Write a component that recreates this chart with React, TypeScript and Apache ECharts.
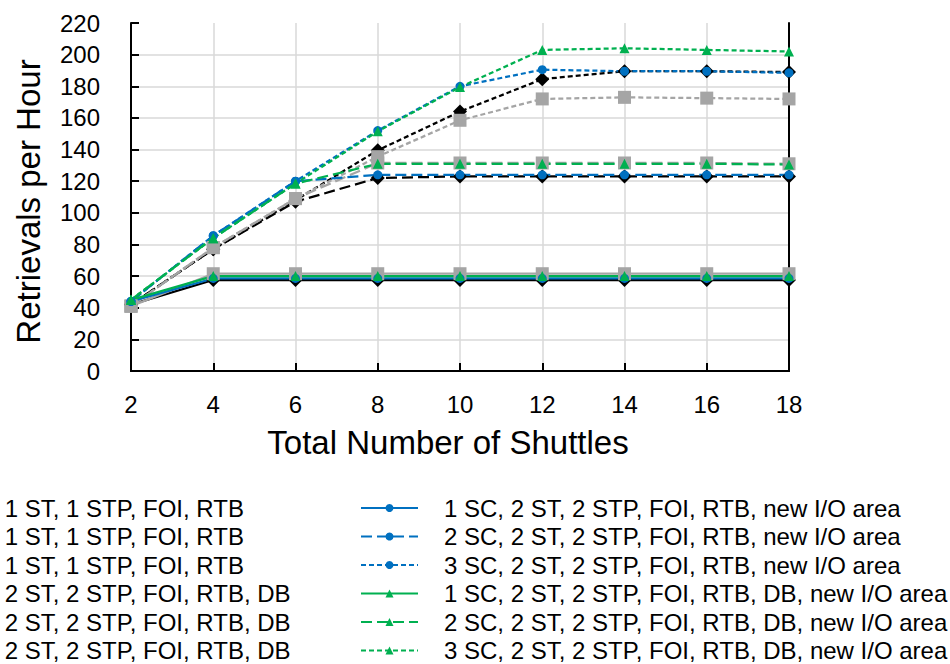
import React, { useEffect, useRef } from "react";
import * as echarts from "echarts";

// Total number of shuttles (x axis)
const shuttles = [2, 4, 6, 8, 10, 12, 14, 16, 18];

// Retrievals per hour for each configuration
const sc1St1 = [42, 57.5, 57.5, 57.5, 57.5, 57.5, 57.5, 57.5, 57.5];
const sc2St1 = [42, 77, 107, 122, 123, 123, 123, 123, 123];
const sc3St1 = [42, 77, 108, 139.5, 164, 184.5, 189.5, 189.5, 189];
const sc1St2Db = [41, 61.5, 61.5, 61.5, 61.5, 61.5, 61.5, 61.5, 61.5];
const sc2St2Db = [41, 78, 109, 131.5, 131.5, 131.5, 131.5, 131.5, 131];
const sc3St2Db = [41, 78, 109, 135.5, 158.5, 172, 173, 172.5, 172];
const sc1New = [44, 58.5, 58.5, 58.5, 58.5, 58.5, 58.5, 58.5, 58.5];
const sc2New = [44, 85.5, 120, 124, 124, 124, 124, 124, 124];
const sc3New = [44, 85.5, 120, 152, 180, 190.5, 189.5, 189.5, 188.5];
const sc1DbNew = [45, 60, 60, 60, 60, 60, 60, 60, 60];
const sc2DbNew = [45, 84, 118.5, 131, 131, 131, 131, 131, 130.5];
const sc3DbNew = [45, 84, 118.5, 151.5, 179.5, 203, 204, 203, 202];

const yTicks = [0, 20, 40, 60, 80, 100, 120, 140, 160, 180, 200, 220];

const leftNames = [
  "1 SC, 1 ST, 1 STP, FOI, RTB",
  "2 SC, 1 ST, 1 STP, FOI, RTB",
  "3 SC, 1 ST, 1 STP, FOI, RTB",
  "1 SC, 2 ST, 2 STP, FOI, RTB, DB",
  "2 SC, 2 ST, 2 STP, FOI, RTB, DB",
  "3 SC, 2 ST, 2 STP, FOI, RTB, DB",
];
const rightNames = [
  "1 SC, 2 ST, 2 STP, FOI, RTB, new I/O area",
  "2 SC, 2 ST, 2 STP, FOI, RTB, new I/O area",
  "3 SC, 2 ST, 2 STP, FOI, RTB, new I/O area",
  "1 SC, 2 ST, 2 STP, FOI, RTB, DB, new I/O area",
  "2 SC, 2 ST, 2 STP, FOI, RTB, DB, new I/O area",
  "3 SC, 2 ST, 2 STP, FOI, RTB, DB, new I/O area",
];

const FONT = "Liberation Sans, Arial, sans-serif";
const LONG_DASH = [11, 5];
const SHORT_DASH = [5, 3];

type Style = {
  color: string;
  symbol: string;
  size: number;
  dash: "solid" | number[];
};

const BLACK = "#000000";
const GRAY = "#A5A5A5";
const BLUE = "#0070C0";
const GREEN = "#00B050";

const seriesDefs: { name: string; values: number[]; style: Style }[] = [
  { name: leftNames[0], values: sc1St1, style: { color: BLACK, symbol: "diamond", size: 14, dash: "solid" } },
  { name: leftNames[1], values: sc2St1, style: { color: BLACK, symbol: "diamond", size: 14, dash: LONG_DASH } },
  { name: leftNames[2], values: sc3St1, style: { color: BLACK, symbol: "diamond", size: 14, dash: SHORT_DASH } },
  { name: leftNames[3], values: sc1St2Db, style: { color: GRAY, symbol: "rect", size: 13, dash: "solid" } },
  { name: leftNames[4], values: sc2St2Db, style: { color: GRAY, symbol: "rect", size: 13, dash: LONG_DASH } },
  { name: leftNames[5], values: sc3St2Db, style: { color: GRAY, symbol: "rect", size: 13, dash: SHORT_DASH } },
  { name: rightNames[0], values: sc1New, style: { color: BLUE, symbol: "circle", size: 9, dash: "solid" } },
  { name: rightNames[1], values: sc2New, style: { color: BLUE, symbol: "circle", size: 9, dash: LONG_DASH } },
  { name: rightNames[2], values: sc3New, style: { color: BLUE, symbol: "circle", size: 9, dash: SHORT_DASH } },
  { name: rightNames[3], values: sc1DbNew, style: { color: GREEN, symbol: "triangle", size: 10, dash: "solid" } },
  { name: rightNames[4], values: sc2DbNew, style: { color: GREEN, symbol: "triangle", size: 10, dash: LONG_DASH } },
  { name: rightNames[5], values: sc3DbNew, style: { color: GREEN, symbol: "triangle", size: 10, dash: SHORT_DASH } },
];

const legendCommon = {
  orient: "vertical" as const,
  top: 496,
  padding: 0,
  itemWidth: 57,
  itemHeight: 10,
  itemGap: 4.5,
  textStyle: {
    fontFamily: FONT,
    fontSize: 24,
    lineHeight: 24,
    color: "#000",
    padding: [0, 0, 0, 21],
  },
};

export default function App() {
  const ref = useRef<HTMLDivElement>(null);

  useEffect(() => {
    if (!ref.current) return;
    const chart = echarts.init(ref.current, null, { renderer: "svg" });

    const axisLine = { show: true, lineStyle: { color: "#000", width: 2 } };

    chart.setOption({
      animation: false,
      backgroundColor: "#fff",
      grid: { left: 131, right: 161, top: 23, bottom: 293, containLabel: false },
      legend: [
        { ...legendCommon, left: -146, data: leftNames },
        { ...legendCommon, left: 360, data: rightNames },
      ],
      xAxis: [
        {
          type: "value",
          min: 2,
          max: 18,
          interval: 2,
          name: "Total Number of Shuttles",
          nameLocation: "middle",
          nameGap: 55,
          nameTextStyle: {
            fontFamily: FONT,
            fontSize: 33,
            color: "#000",
            padding: [0, 24, 0, 0],
          },
          axisLine,
          axisTick: { show: true, inside: true, length: 8, lineStyle: { color: "#000", width: 2 } },
          axisLabel: { fontFamily: FONT, fontSize: 24, color: "#000", margin: 21 },
          splitLine: {
            show: true,
            showMinLine: false,
            showMaxLine: false,
            lineStyle: { color: "#D9D9D9", width: 1.5 },
          },
        },
        {
          type: "value",
          position: "top",
          min: 2,
          max: 18,
          interval: 2,
          axisLine,
          axisTick: { show: false },
          axisLabel: { show: false },
          splitLine: { show: false },
        },
      ],
      yAxis: [
        {
          type: "value",
          min: 0,
          max: 220,
          interval: 20,
          name: "Retrievals per Hour",
          nameLocation: "middle",
          nameGap: 86,
          nameTextStyle: {
            fontFamily: FONT,
            fontSize: 33,
            color: "#000",
            padding: [0, 9, 0, 0],
          },
          axisLine,
          axisTick: { show: true, inside: true, length: 8, lineStyle: { color: "#000", width: 2 } },
          axisLabel: {
            fontFamily: FONT,
            fontSize: 24,
            color: "#000",
            margin: 31,
            formatter: (v: number) => (yTicks.includes(v) ? String(v) : ""),
          },
          splitLine: {
            show: true,
            showMinLine: false,
            showMaxLine: false,
            lineStyle: { color: "#D9D9D9", width: 1.5 },
          },
        },
        {
          type: "value",
          position: "right",
          min: 0,
          max: 220,
          interval: 20,
          axisLine,
          axisTick: { show: false },
          axisLabel: { show: false },
          splitLine: { show: false },
        },
      ],
      series: seriesDefs.map((s) => ({
        name: s.name,
        type: "line",
        xAxisIndex: 0,
        yAxisIndex: 0,
        data: shuttles.map((x, i) => [x, s.values[i]]),
        symbol: s.style.symbol,
        symbolSize: s.style.size,
        showAllSymbol: true,
        lineStyle: { color: s.style.color, width: 2.25, type: s.style.dash },
        itemStyle: { color: s.style.color },
        emphasis: { disabled: true },
      })),
    });

    return () => chart.dispose();
  }, []);

  return <div ref={ref} style={{ width: 950, height: 664, position: "absolute", left: 0, top: 0 }} />;
}
